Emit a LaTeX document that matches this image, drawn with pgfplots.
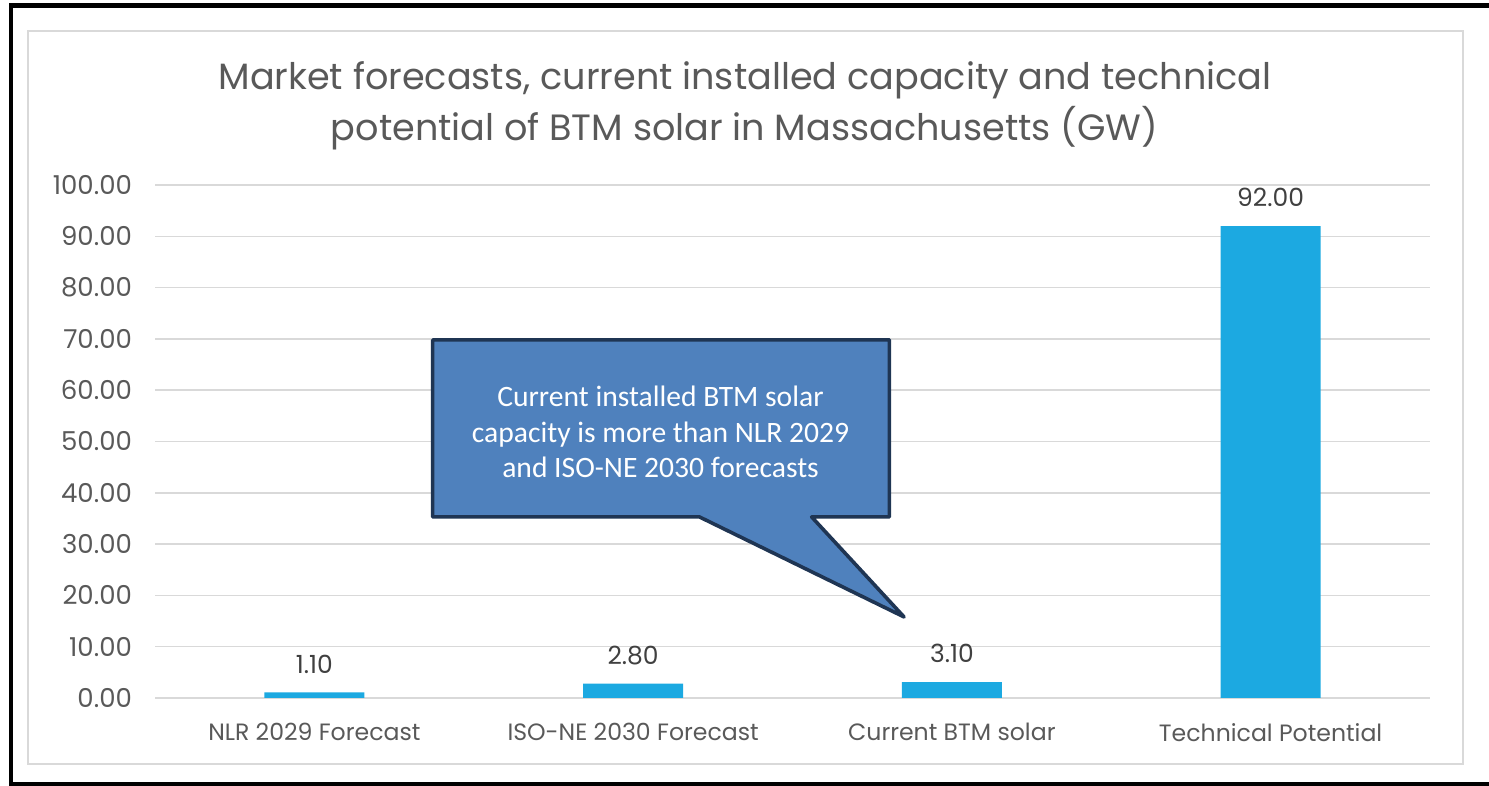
\documentclass[border=0pt]{standalone}
\usepackage{fontspec}
\setmainfont{Poppins}
\newfontfamily\calloutfont{Carlito}
\usepackage{pgfplots}
\pgfplotsset{compat=1.18}
\definecolor{barblue}{HTML}{1CA9E1}
\definecolor{gridgray}{HTML}{D9D9D9}
\definecolor{txtgray}{HTML}{595959}
\definecolor{lblgray}{HTML}{404040}
\definecolor{calfill}{HTML}{4F81BD}
\definecolor{caledge}{HTML}{1F3553}
\begin{document}
\begin{tikzpicture}
\path[use as bounding box] (0pt,0pt) rectangle (744.5pt,393pt);
\draw[black, line width=2.2pt] (5.5pt,0pt) -- (5.5pt,390.3pt) -- (744.5pt,390.3pt);
\draw[black, line width=2pt] (5.5pt,1pt) -- (744.5pt,1pt);
\draw[gridgray, line width=0.9pt] (14pt,11pt) rectangle (731.5pt,377.5pt);
\node[font=\fontsize{18.3}{22}\selectfont, text=txtgray] at (372.5pt,353pt) {Market forecasts, current installed capacity and technical};
\node[font=\fontsize{18.3}{22}\selectfont, text=txtgray] at (372.2pt,329pt) {potential of BTM solar in Massachusetts (GW)};
\begin{axis}[
  at={(77.5pt,44pt)}, anchor=south west,
  scale only axis, width=637.5pt, height=256.5pt,
  xmin=-0.5, xmax=3.5, ymin=0, ymax=100,
  ytick={0,10,20,30,40,50,60,70,80,90,100},
  xtick={0,1,2,3},
  xticklabels={NLR 2029 Forecast, ISO-NE 2030 Forecast, Current BTM solar, Technical Potential},
  axis line style={draw=none},
  major tick length=0pt,
  ymajorgrids,
  grid style={gridgray, line width=0.75pt},
  /pgf/number format/assume math mode=true,
  yticklabel style={/pgf/number format/.cd, fixed, fixed zerofill, precision=2, /tikz/.cd, font=\fontsize{13}{15}\selectfont, text=txtgray, xshift=-8pt},
  xticklabel style={font=\fontsize{11.8}{14}\selectfont, text=txtgray, yshift=-9pt},
  clip=false,
  ybar, bar width=50pt,
  nodes near coords,
  nodes near coords style={/pgf/number format/.cd, fixed, fixed zerofill, precision=2, /tikz/.cd, font=\fontsize{12.5}{14}\selectfont, text=lblgray, yshift=6pt},
]
\addplot[fill=barblue, draw=none] coordinates {(0,1.1) (1,2.8) (2,3.1) (3,92)};
\draw[caledge, fill=calfill, line width=1.8pt, line join=round]
  (axis cs:0.371,69.8) -- (axis cs:1.804,69.8) -- (axis cs:1.804,35.3) -- (axis cs:1.560,35.3)
  -- (axis cs:1.85,15.8) -- (axis cs:1.208,35.3) -- (axis cs:0.371,35.3) -- cycle;
\node[align=center, text=white, font=\calloutfont\fontsize{14.8}{17.8}\selectfont] at (axis cs:1.086,51.85)
  {Current installed BTM solar\\capacity is more than NLR 2029\\and ISO-NE 2030 forecasts};
\end{axis}
\end{tikzpicture}
\end{document}
